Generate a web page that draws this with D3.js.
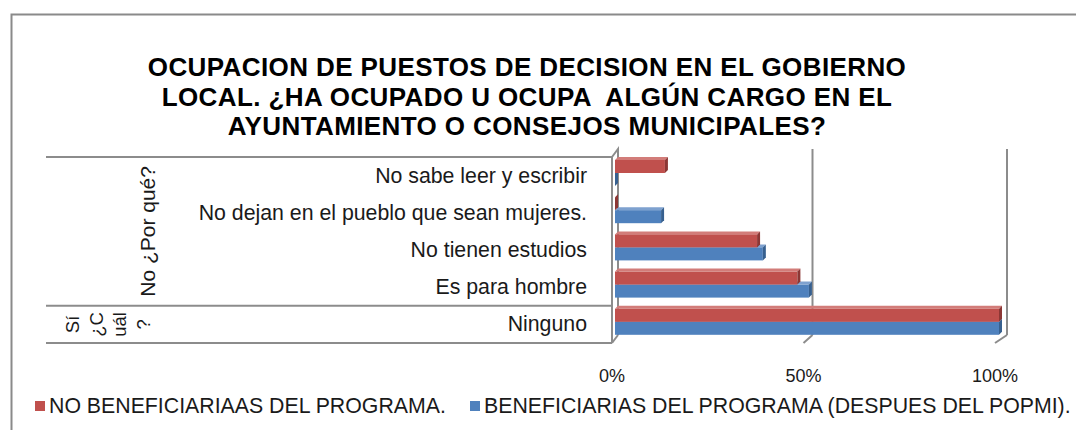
<!DOCTYPE html>
<html>
<head>
<meta charset="utf-8">
<title>Ocupacion de puestos de decision</title>
<script src="https://d3js.org/d3.v7.min.js"></script>
<style>
  body { margin: 0; background: #fff; }
  svg text { font-family: "Liberation Sans", Arial, sans-serif; fill: #1a1a1a; }
</style>
</head>
<body>
<div id="chart"></div>
<script>
// data, top row first
var categories = ["No sabe leer y escribir", "No dejan en el pueblo que sean mujeres.",
                  "No tienen estudios", "Es para hombre", "Ninguno"];
var noBenef = [13, 0, 37, 47.5, 100];   // red
var benef = [0, 12, 38.5, 50.5, 100];   // blue
var seriesNames = ["NO BENEFICIARIAAS DEL PROGRAMA.", "BENEFICIARIAS DEL PROGRAMA (DESPUES DEL POPMI)."];
var ticks = [0, 50, 100];
var tickLabels = ["0%", "50%", "100%"];
var titleLines = ["OCUPACION DE PUESTOS DE DECISION EN EL GOBIERNO",
                  "LOCAL. ¿HA OCUPADO U OCUPA  ALGÚN CARGO EN EL",
                  "AYUNTAMIENTO O CONSEJOS MUNICIPALES?"];

var W = 1076, H = 430;
var svg = d3.select("#chart").append("svg").attr("width", W).attr("height", H);

// outer border (right/bottom run off the picture)
svg.append("rect").attr("x", 11.5).attr("y", 14.5).attr("width", W).attr("height", H)
  .attr("fill", "none").attr("stroke", "#8a8a8a").attr("stroke-width", 2);

// title
svg.append("g").selectAll("text").data(titleLines).join("text")
  .attr("x", 527).attr("y", function(d, i) { return 76 + i * 29.5; })
  .attr("text-anchor", "middle").style("font-size", "26px").style("font-weight", "bold")
  .style("letter-spacing", "0.4px")
  .style("fill", "#000").style("white-space", "pre")
  .text(function(d) { return d; });

// scales
var TOP = 157, BOT = 343, DY = -8;
var y = d3.scaleBand().domain(categories).range([TOP, BOT]);
var xFront = d3.scaleLinear().domain([0, 100]).range([612, 995]);
var xBack = d3.scaleLinear().domain([0, 100]).range([618, 1007]);
var xBar = d3.scaleLinear().domain([0, 100]).range([615, 999]);
var grey = "#8c8c8c";

// back wall gridlines and floor stubs
var grid = svg.append("g").attr("stroke", grey).attr("stroke-width", 2).attr("fill", "none");
grid.selectAll(".gl").data(ticks.slice(1)).join("line")
  .attr("x1", xBack).attr("x2", xBack).attr("y1", TOP + DY).attr("y2", BOT + DY);
grid.selectAll(".st").data(ticks).join("line")
  .attr("x1", xFront).attr("x2", xBack).attr("y1", BOT).attr("y2", BOT + DY);
// left wall
grid.append("path").attr("d", "M" + xFront(0) + "," + TOP + "L" + xBack(0) + "," + (TOP + DY) +
  "L" + xBack(0) + "," + (BOT + DY));

// label panel lines
var panel = svg.append("g").attr("stroke", grey).attr("stroke-width", 2);
[TOP, y("Ninguno"), BOT].forEach(function(v) {
  panel.append("line").attr("x1", 46).attr("x2", xFront(0)).attr("y1", v).attr("y2", v);
});
panel.append("line").attr("x1", xFront(0)).attr("x2", xFront(0)).attr("y1", TOP).attr("y2", BOT);

// category labels
svg.append("g").selectAll("text").data(categories).join("text")
  .attr("x", 587).attr("y", function(d) { return y(d) + y.bandwidth() / 2 + 7; })
  .attr("text-anchor", "end").style("font-size", "21.3px")
  .text(function(d) { return d; });

// group labels
var noTop = TOP, noBot = y("Ninguno");
svg.append("text").attr("transform", "translate(155," + ((noTop + noBot) / 2) + ") rotate(-90)")
  .attr("text-anchor", "middle").style("font-size", "21px").text("No ¿Por qué?");
var siLines = ["Sí", "¿C", "uál", "?"];
var siY = y("Ninguno") + y.bandwidth() / 2;
svg.append("g").selectAll("text").data(siLines).join("text")
  .attr("transform", function(d, i) { return "translate(" + (79 + i * 23.5) + "," + siY + ") rotate(-90)"; })
  .attr("text-anchor", "middle").style("font-size", "18.5px")
  .text(function(d) { return d; });

// 3d bars
var D = 3, BH = 13;
var series = [
  { vals: benef, off: 16, front: "#4F81BD", top: "#7EA1CF", side: "#37608F" },
  { vals: noBenef, off: 3, front: "#C0504D", top: "#D27C79", side: "#8C3735" }
];
var bars = svg.append("g");
series.forEach(function(s) {
  var g = bars.append("g");
  var rows = categories.map(function(c, i) { return { c: c, v: s.vals[i] }; });
  var bx0 = xBar(0);
  g.selectAll(".top").data(rows).join("path")
    .attr("fill", s.top)
    .attr("d", function(d) {
      var yy = y(d.c) + s.off, x1 = xBar(d.v);
      return "M" + bx0 + "," + yy + "L" + (bx0 + D) + "," + (yy - D) + "L" + (x1 + D) + "," + (yy - D) +
        "L" + x1 + "," + yy + "Z";
    });
  g.selectAll(".front").data(rows).join("rect")
    .attr("fill", s.front)
    .attr("x", bx0).attr("y", function(d) { return y(d.c) + s.off; })
    .attr("width", function(d) { return xBar(d.v) - bx0; }).attr("height", BH);
  g.selectAll(".side").data(rows).join("path")
    .attr("fill", s.side)
    .attr("d", function(d) {
      var yy = y(d.c) + s.off, x1 = xBar(d.v);
      return "M" + x1 + "," + yy + "L" + (x1 + D) + "," + (yy - D) + "L" + (x1 + D) + "," + (yy + BH - D) +
        "L" + x1 + "," + (yy + BH) + "Z";
    });
});

// tick labels
svg.append("g").selectAll("text").data(ticks).join("text")
  .attr("x", xFront).attr("y", 382).attr("text-anchor", "middle").style("font-size", "18px")
  .text(function(d, i) { return tickLabels[i]; });

// legend
var legX = [35, 470];
var colors = ["#C0504D", "#4F81BD"];
var leg = svg.append("g").selectAll("g").data(seriesNames).join("g")
  .attr("transform", function(d, i) { return "translate(" + legX[i] + ",0)"; });
leg.append("rect").attr("y", 401).attr("width", 10).attr("height", 10)
  .attr("fill", function(d, i) { return colors[i]; });
leg.append("text").attr("x", 14).attr("y", 413).style("font-size", "21.3px")
  .text(function(d) { return d; });
</script>
</body>
</html>
